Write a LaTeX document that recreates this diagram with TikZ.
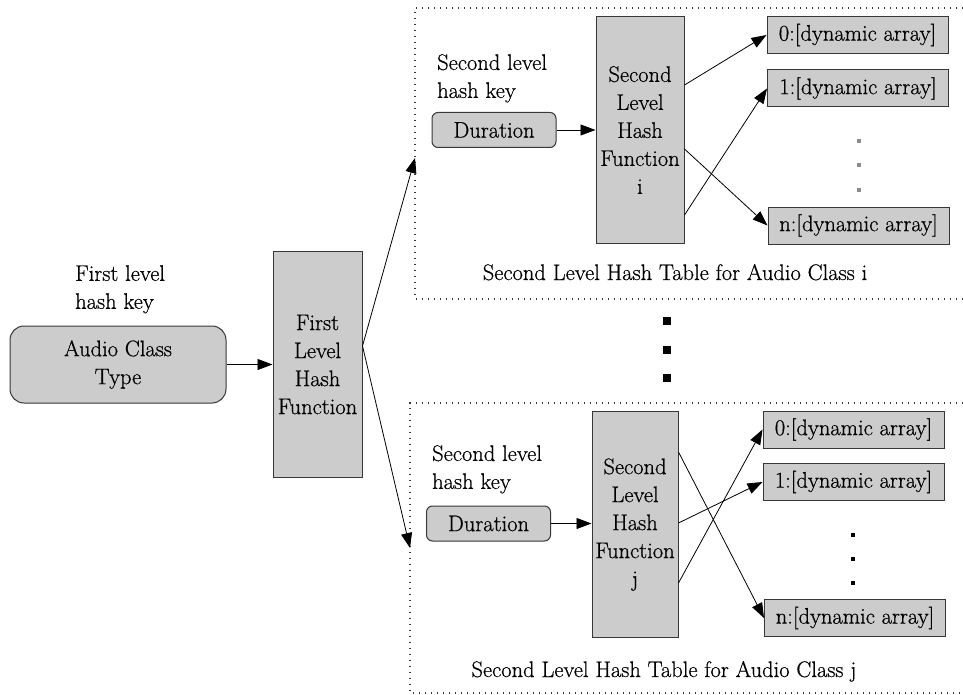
\documentclass[tikz,border=0pt]{standalone}
\usepackage{fontspec}
\newfontfamily\diagfont{Latin Modern Roman}[FakeBold=0.6]
\usetikzlibrary{arrows.meta}
\definecolor{boxgray}{RGB}{204,204,204}
\definecolor{edgegray}{RGB}{55,55,55}
\definecolor{dotgray}{RGB}{140,140,140}
\tikzset{
  txt/.style={font=\diagfont\fontsize{22.5}{28}\selectfont, inner sep=0pt},
  box/.style={txt, draw=edgegray, fill=boxgray, line width=1pt, align=center},
  keybox/.style={box, rounded corners=6pt},
  hashbox/.style={box, minimum width=88pt, minimum height=226pt},
  slot/.style={box, minimum width=181pt, minimum height=37pt},
  arr/.style={-{Triangle[length=15pt,width=11pt]}, line width=0.8pt},
  panel/.style={draw=edgegray, line width=1.3pt, dash pattern=on 1.3pt off 4.7pt},
  label/.style={txt, align=left, anchor=north west}
}
\begin{document}
\begin{tikzpicture}[x=1pt,y=-1pt]
\useasboundingbox (0,0) rectangle (963,695);

% dotted frames of the two second-level tables
\draw[panel] (963,8) -- (415,8) -- (415,299) -- (963,299);
\draw[panel] (963,403) -- (410,403) -- (410,693) -- (963,693);

% first level
\node[label] (k1) at (75,265) {First level\\hash key};
\node[box, rounded corners=14pt, minimum width=216pt, minimum height=77pt] (act) at (118,364.5) {Audio Class\\Type};
\node[hashbox, minimum width=89pt] (flh) at (317.5,364.5) {First\\Level\\Hash\\Function};
\draw[arr] (act) -- (flh);

% table for class i
\node[label] (k2i) at (437,54) {Second level\\hash key};
\node[keybox, minimum width=124pt, minimum height=35pt] (di) at (494,130) {Duration};
\node[hashbox] (hi) at (640,130) {Second\\Level\\Hash\\Function\\i};
\node[slot] (a0i) at (857.5,35) {0:[dynamic array]};
\node[slot] (a1i) at (858,88.5) {1:[dynamic array]};
\node[slot] (ani) at (858.5,225.5) {n:[dynamic array]};
\node[txt, anchor=base] (ti) at (675,280) {Second Level Hash Table for Audio Class i};
\draw[arr] (di.east) -- (di.east -| hi.west);
\draw[arr] ([yshift=45pt]hi.east) -- (a0i.west);
\draw[arr] ([yshift=-19pt]hi.east) -- (ani.west);
\draw[arr] ([yshift=-85pt]hi.east) -- (a1i.west);
\fill[dotgray] (857,139) rectangle (861,143);
\fill[dotgray] (857,163) rectangle (861,167);
\fill[dotgray] (857,188) rectangle (861,192);

% table for class j
\node[label] (k2j) at (432,445) {Second level\\hash key};
\node[keybox, minimum width=124pt, minimum height=35pt] (dj) at (488.5,523.5) {Duration};
\node[hashbox, minimum width=86pt] (hj) at (635,524.5) {Second\\Level\\Hash\\Function\\j};
\node[slot] (a0j) at (853.5,429.5) {0:[dynamic array]};
\node[slot] (a1j) at (853.5,482) {1:[dynamic array]};
\node[slot] (anj) at (855,618) {n:[dynamic array]};
\node[txt, anchor=base] (tj) at (664,677) {Second Level Hash Table for Audio Class j};
\draw[arr] (dj.east) -- (dj.east -| hj.west);
\draw[arr] ([yshift=72.5pt]hj.east) -- (anj.west);
\draw[arr] ([yshift=1.5pt]hj.east) -- (a1j.west);
\draw[arr] ([yshift=-58.5pt]hj.east) -- (a0j.west);
\fill (851,533) rectangle (855,537);
\fill (851,557) rectangle (855,561);
\fill (851,581) rectangle (855,585);

% first level hash fans out to the tables
\coordinate (ini) at (415,158);
\coordinate (inj) at (410,548);
\draw[arr] ([yshift=18.5pt]flh.east) -- (ini);
\draw[arr] ([yshift=18.5pt]flh.east) -- (inj);

% ellipsis between the tables
\fill (663,317) rectangle (671,325);
\fill (663,346) rectangle (671,354);
\fill (663,374) rectangle (671,382);
\end{tikzpicture}
\end{document}
